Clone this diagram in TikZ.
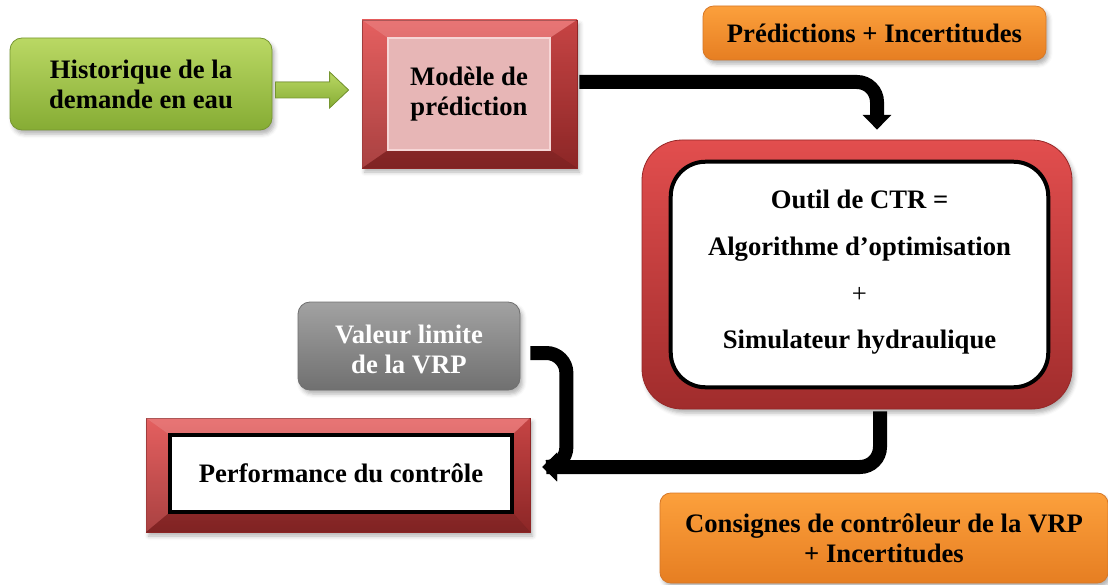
\documentclass[tikz,border=0pt]{standalone}
\usepackage{fontspec}
\setmainfont{Liberation Serif}
\usetikzlibrary{fit,arrows.meta,shadows.blur,calc}

\definecolor{redtop}{RGB}{226,78,78}
\definecolor{redbot}{RGB}{160,44,44}
\definecolor{redline}{RGB}{150,40,40}
\definecolor{pinkin}{RGB}{231,182,182}
\definecolor{pinkline}{RGB}{246,214,214}
\definecolor{greentop}{RGB}{186,216,100}
\definecolor{greenbot}{RGB}{134,172,52}
\definecolor{greenline}{RGB}{118,150,48}
\definecolor{orangetop}{RGB}{252,160,60}
\definecolor{orangebot}{RGB}{230,126,34}
\definecolor{orangeline}{RGB}{214,120,40}
\definecolor{greytop}{RGB}{162,162,162}
\definecolor{greybot}{RGB}{112,112,112}

\tikzset{
  lbl/.style={font=\fontsize{20}{22.5}\selectfont\bfseries, align=center},
  soft/.style={blur shadow={shadow xshift=2pt, shadow yshift=-3pt,
      shadow opacity=30, shadow blur radius=3pt}},
  panel/.style={inner sep=0pt, soft},
  greenbox/.style={panel, rounded corners=9pt, top color=greentop,
      bottom color=greenbot, draw=greenline, line width=0.6pt},
  orangebox/.style={panel, rounded corners=8pt, top color=orangetop,
      bottom color=orangebot, draw=orangeline, line width=0.6pt},
  greybox/.style={panel, rounded corners=9pt, top color=greytop,
      bottom color=greybot, draw=greybot, line width=0.6pt, text=white},
  redframe/.style={panel, top color=redtop, bottom color=redbot,
      draw=redline, line width=0.6pt},
  redround/.style={redframe, rounded corners=30pt},
  area/.style={inner sep=0pt},
  pinkpane/.style={fill=pinkin, draw=pinkline, line width=1.2pt},
  whitepane/.style={fill=white, draw=black, line width=3pt},
  flow/.style={line width=10.5pt, black, rounded corners=15pt,
      -{Triangle[width=21pt,length=11pt]}},
}

% light and dark faces between an outer frame and its inner pane
\newcommand{\bevelfaces}[2]{%
  \fill[white,opacity=.22] (#1.north west) -- (#1.north east) -- (#2.north east) -- (#2.north west) -- cycle;
  \fill[white,opacity=.10] (#1.north west) -- (#1.south west) -- (#2.south west) -- (#2.north west) -- cycle;
  \fill[black,opacity=.12] (#1.north east) -- (#1.south east) -- (#2.south east) -- (#2.north east) -- cycle;
  \fill[black,opacity=.20] (#1.south west) -- (#1.south east) -- (#2.south east) -- (#2.south west) -- cycle;
}

\begin{document}
\begin{tikzpicture}[x=0.75pt,y=-0.75pt]
\useasboundingbox (0,0) rectangle (1108,585);

% input data
\node[greenbox, fit={(10,38) (272,130)}] (hist) {};
\node[lbl] at (hist.center) {Historique de la\\demande en eau};

% prediction model
\node[redframe, fit={(362,20) (577,168)}] (model) {};
\node[area, fit={(388,38) (550,150)}] (modelin) {};
\bevelfaces{model}{modelin}
\draw[pinkpane] (modelin.north west) rectangle (modelin.south east);
\node[lbl] at (modelin.center) {Modèle de\\prédiction};

% block arrow from the data to the model
\coordinate (ga) at ($(hist.east)+(3,6)$);
\coordinate (gb) at ($(model.west)+(-13,-4)$);
\filldraw[top color=greentop, bottom color=greenbot, draw=greenline, line width=0.6pt]
  ($(ga)+(0,-8)$) -- ($(gb)+(-19,-8)$) -- ($(gb)+(-19,-18)$) -- (gb)
  -- ($(gb)+(-19,18)$) -- ($(gb)+(-19,8)$) -- ($(ga)+(0,8)$) -- cycle;

% output of the model
\node[orangebox, fit={(703,6) (1046,60)}] (pred) {};
\node[lbl] at (pred.center) {Prédictions + Incertitudes};

% real-time control tool
\node[redround, fit={(642,140) (1072,409)}] (ctr) {};
\node[area, fit={(671,162) (1048,387)}] (ctrin) {};
\draw[whitepane, rounded corners=26pt] (ctrin.north west) rectangle (ctrin.south east);
\node[lbl, font=\fontsize{20}{35}\selectfont\bfseries] at ($(ctrin.center)+(0,-2)$)
  {Outil de CTR =\\Algorithme d’optimisation\\\textmd{+}\\Simulateur hydraulique};

% limit value of the valve
\node[greybox, fit={(298,302) (520,390)}] (vrp) {};
\node[lbl, text=white] at ($(vrp.center)+(0,3)$) {Valeur limite\\de la VRP};

% control performance
\node[redframe, fit={(146,418) (530,532)}] (perf) {};
\node[area, fit={(170,435) (512,512)}] (perfin) {};
\bevelfaces{perf}{perfin}
\draw[whitepane] (perfin.north west) rectangle (perfin.south east);
\node[lbl] at (perfin.center) {Performance du contrôle};

% controller set points
\node[orangebox, fit={(660,493) (1108,583)}] (cons) {};
\node[lbl] at (cons.center) {Consignes de contrôleur de la VRP\\+ Incertitudes};

% connectors
\coordinate (m1) at ($(model.east)+(2,-12)$);
\coordinate (c1) at ($(ctr.north)+(20,-10)$);
\draw[flow] (m1) -| (c1);

\coordinate (join) at ($(perf.east)+(12,-8)$);
\coordinate (c2) at ($(ctr.south)+(23,2)$);
\draw[flow] (c2) |- (join);

\coordinate (v1) at ($(vrp.east)+(10,7)$);
\draw[flow] (v1) -| ($(join)+(24,-40)$) |- (join);
\end{tikzpicture}
\end{document}
